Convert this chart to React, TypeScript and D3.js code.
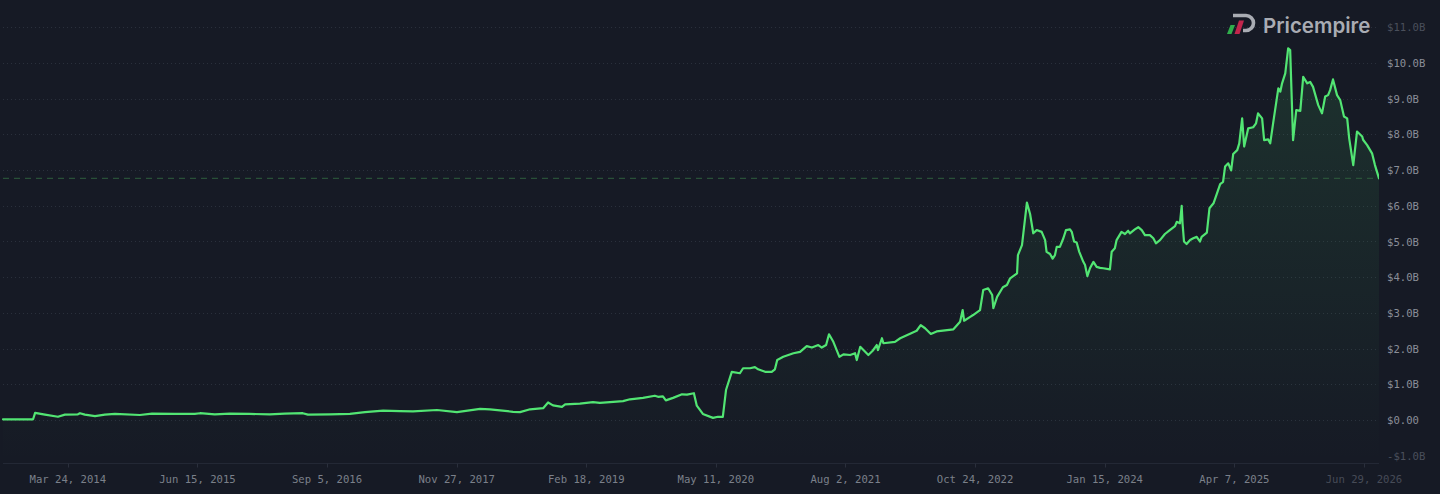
import React from "react";
import * as d3 from "d3";

// One line per calendar year; dates and values are aligned index by index.
const dates = [
  "2013-08-12","2013-11-24","2013-12-01",
  "2014-01-04","2014-02-18","2014-03-14","2014-04-28","2014-05-05","2014-05-22","2014-06-26","2014-07-30","2014-09-03","2014-11-28",
  "2015-01-09","2015-03-29","2015-06-06","2015-06-24","2015-08-14","2015-10-05","2015-12-13",
  "2016-02-20","2016-04-12","2016-06-13","2016-07-01","2016-09-15","2016-11-23",
  "2017-01-14","2017-03-18","2017-05-15","2017-06-29","2017-09-20","2017-11-28",
  "2018-02-16","2018-03-22","2018-06-10","2018-07-04","2018-08-08","2018-09-22","2018-10-09","2018-10-26","2018-11-26","2018-12-07",
  "2019-01-27","2019-03-13","2019-04-06","2019-05-11","2019-06-25","2019-07-19","2019-09-02","2019-10-13","2019-10-24","2019-11-10","2019-11-20","2019-12-15",
  "2020-01-15","2020-02-01","2020-02-25","2020-03-06","2020-03-27","2020-05-01","2020-05-18","2020-06-04","2020-06-15","2020-07-05","2020-08-02","2020-08-13","2020-09-06","2020-09-23","2020-10-04","2020-10-28","2020-11-20","2020-12-01","2020-12-09","2020-12-30",
  "2021-02-03","2021-02-26","2021-03-21","2021-04-08","2021-04-30","2021-05-12","2021-05-27","2021-06-06","2021-06-21","2021-07-12","2021-07-26","2021-08-18","2021-09-04","2021-09-10","2021-09-22","2021-10-09","2021-10-20","2021-11-04","2021-11-18","2021-11-22","2021-12-06","2021-12-11",
  "2022-01-20","2022-02-07","2022-03-19","2022-04-05","2022-04-19","2022-05-04","2022-05-24","2022-06-13","2022-08-10","2022-09-02","2022-09-11","2022-09-16","2022-10-07","2022-10-17","2022-11-10","2022-11-21","2022-12-08","2022-12-22","2022-12-26",
  "2023-01-08","2023-01-28","2023-02-11","2023-02-22","2023-03-18","2023-03-21","2023-04-04","2023-04-21","2023-05-02","2023-05-13","2023-05-25","2023-06-11","2023-06-23","2023-06-28","2023-07-10","2023-07-19","2023-07-27","2023-08-02","2023-08-13","2023-08-25","2023-09-03","2023-09-17","2023-09-23","2023-10-01","2023-10-10","2023-10-19","2023-11-02","2023-11-08","2023-11-16","2023-11-25","2023-12-07","2023-12-18","2023-12-30",
  "2024-01-10","2024-02-02","2024-02-08","2024-02-19","2024-02-25","2024-03-13","2024-03-25","2024-04-05","2024-04-11","2024-04-28","2024-05-10","2024-05-22","2024-06-02","2024-06-19","2024-07-01","2024-07-10","2024-07-24","2024-08-10","2024-08-27","2024-09-14","2024-09-20","2024-10-01","2024-10-07","2024-10-10","2024-10-15","2024-10-24","2024-11-05","2024-11-16","2024-11-28","2024-12-09","2024-12-15",
  "2025-01-02","2025-01-11","2025-01-25","2025-02-06","2025-02-17","2025-02-27","2025-03-06","2025-03-17","2025-03-27","2025-04-03","2025-04-17","2025-04-24","2025-05-04","2025-05-11","2025-05-25","2025-06-11","2025-06-21","2025-06-28","2025-07-12","2025-07-19","2025-08-02","2025-08-09","2025-08-19","2025-09-06","2025-09-13","2025-09-19","2025-09-30","2025-10-10","2025-10-17","2025-10-27","2025-11-07","2025-11-21","2025-12-01","2025-12-15","2025-12-25",
  "2026-01-04","2026-01-22","2026-02-04","2026-02-15","2026-02-25","2026-03-04","2026-03-14","2026-03-28","2026-04-08","2026-04-21","2026-05-02","2026-05-09","2026-05-23","2026-06-05","2026-06-23","2026-06-26","2026-07-10","2026-07-27","2026-08-06","2026-08-20",
];

// Market cap in billions of USD
const values = [
  0.02,0.02,0.20,
  0.15,0.09,0.15,0.16,0.19,0.15,0.11,0.15,0.17,0.14,
  0.18,0.17,0.17,0.19,0.16,0.18,0.17,
  0.16,0.18,0.19,0.15,0.16,0.17,
  0.22,0.26,0.25,0.24,0.28,0.22,
  0.31,0.30,0.23,0.22,0.30,0.33,0.49,0.41,0.37,0.44,
  0.46,0.50,0.48,0.50,0.53,0.58,0.62,0.68,0.65,0.66,0.55,0.62,
  0.72,0.71,0.75,0.40,0.17,0.06,0.09,0.09,0.84,1.35,1.31,1.45,1.45,1.48,1.42,1.35,1.35,1.42,1.68,1.77,
  1.87,1.91,2.07,2.03,2.10,2.03,2.10,2.40,2.19,1.77,1.84,1.82,1.87,1.68,2.05,1.91,1.82,1.94,2.10,1.96,2.29,2.15,
  2.19,2.29,2.44,2.50,2.66,2.57,2.41,2.48,2.54,2.75,3.08,2.78,2.89,2.94,3.08,3.64,3.69,3.50,3.13,
  3.45,3.72,3.78,3.97,4.11,4.62,4.90,6.09,5.77,5.23,5.32,5.27,5.04,4.71,4.65,4.52,4.62,4.85,4.85,5.09,5.32,5.34,5.27,5.00,4.97,4.71,4.43,4.34,4.03,4.25,4.43,4.29,4.26,
  4.25,4.22,4.71,4.81,5.04,5.27,5.21,5.30,5.23,5.34,5.40,5.32,5.18,5.18,5.09,4.95,5.04,5.21,5.32,5.43,5.55,5.51,6.00,5.51,5.00,4.93,5.04,5.09,5.13,5.00,5.13,
  5.25,5.93,6.07,6.35,6.61,6.67,7.10,7.19,6.99,7.45,7.56,7.75,8.45,7.66,8.17,8.20,8.31,8.59,8.45,7.84,7.86,7.75,8.31,9.29,9.20,9.43,9.71,10.41,10.36,7.84,8.68,8.66,9.61,9.43,9.47,
  9.33,8.82,8.59,9.06,9.10,9.24,9.54,9.10,8.96,8.50,8.45,7.89,7.14,8.08,7.94,7.85,7.70,7.47,7.14,6.77,
];

const xTickDates = [
  "2014-03-24","2015-06-15","2016-09-05","2017-11-27","2019-02-18","2020-05-11",
  "2021-08-02","2022-10-24","2024-01-15","2025-04-07","2026-06-29",
];

const yTickValues = [-1, 0, 1, 2, 3, 4, 5, 6, 7, 8, 9, 10, 11];
const gridValues = [0, 1, 2, 3, 4, 5, 6, 7, 8, 9, 10, 11];

const BG = "#161a25";
const LINE = "#52e573";
const MONO = "'DejaVu Sans Mono', 'Liberation Mono', monospace";

export default function App() {
  const W = 1440;
  const H = 494;
  const plotLeft = 3;
  const plotRight = 1379;
  const axisY = 463.5;

  const parse = d3.utcParse("%Y-%m-%d");
  const n = Math.min(dates.length, values.length);
  const data = dates.slice(0, n).map((d, i) => ({ date: parse(d) as Date, value: values[i] }));

  const x = d3
    .scaleUtc()
    .domain(d3.extent(data, (d) => d.date) as [Date, Date])
    .range([plotLeft, plotRight]);
  const y = d3.scaleLinear().domain([0, 11]).range([420, 27.3]);

  const line = d3
    .line<{ date: Date; value: number }>()
    .x((d) => x(d.date))
    .y((d) => y(d.value));
  const area = d3
    .area<{ date: Date; value: number }>()
    .x((d) => x(d.date))
    .y0(axisY)
    .y1((d) => y(d.value));

  const fmtDate = d3.utcFormat("%b %-d, %Y");
  const fmtVal = (v: number) =>
    v === 0 ? "$0.00" : (v < 0 ? "-" : "") + "$" + Math.abs(v).toFixed(1) + "B";

  const last = data[data.length - 1].value;

  return (
    <div
      style={{
        position: "fixed",
        left: 0,
        top: 0,
        width: W,
        height: H,
        background: BG,
        overflow: "hidden",
      }}
    >
      <svg width={W} height={H} style={{ display: "block" }}>
        <defs>
          <linearGradient id="areaFill" gradientUnits="userSpaceOnUse" x1="0" y1={y(10.5)} x2="0" y2={axisY}>
            <stop offset="0%" stopColor={LINE} stopOpacity={0.12} />
            <stop offset="100%" stopColor={LINE} stopOpacity={0.0} />
          </linearGradient>
          <clipPath id="plotClip">
            <rect x={0} y={0} width={plotRight} height={axisY} />
          </clipPath>
        </defs>
        <rect x={0} y={0} width={W} height={H} fill={BG} />

        {/* grid */}
        {gridValues.map((v) => (
          <line
            key={"g" + v}
            x1={plotLeft}
            x2={plotRight}
            y1={Math.round(y(v)) + 0.5}
            y2={Math.round(y(v)) + 0.5}
            stroke="#2a303c"
            strokeWidth={1}
            strokeDasharray="1 3"
          />
        ))}

        <g clipPath="url(#plotClip)">
          <path d={area(data) || ""} fill="url(#areaFill)" />
          <line
            x1={plotLeft}
            x2={plotRight}
            y1={y(last)}
            y2={y(last)}
            stroke="#2f5e3e"
            strokeWidth={1}
            strokeDasharray="6 5"
          />
          <path
            d={line(data) || ""}
            fill="none"
            stroke={LINE}
            strokeWidth={2.2}
            strokeLinejoin="round"
            strokeLinecap="round"
          />
        </g>

        {/* x axis */}
        <line x1={plotLeft} x2={plotRight} y1={axisY} y2={axisY} stroke="#232835" strokeWidth={1} />
        {xTickDates.map((s, i) => {
          const d = parse(s) as Date;
          const xx = Math.round(x(d)) + 0.5;
          const faded = i === xTickDates.length - 1;
          return (
            <g key={"xt" + s}>
              <line x1={xx} x2={xx} y1={axisY} y2={axisY + 4} stroke="#2a2f3c" strokeWidth={1} />
              <text
                x={x(d)}
                y={479}
                textAnchor="middle"
                dominantBaseline="central"
                fontFamily={MONO}
                fontSize={10.6}
                fill={faded ? "#464b57" : "#7b808a"}
              >
                {fmtDate(d)}
              </text>
            </g>
          );
        })}

        {/* y axis labels */}
        {yTickValues.map((v) => {
          const faded = v === 11 || v === -1;
          return (
            <text
              key={"yt" + v}
              x={1387}
              y={y(v)}
              textAnchor="start"
              dominantBaseline="central"
              fontFamily={MONO}
              fontSize={10.6}
              fill={faded ? "#4a4f5b" : "#8a8e98"}
            >
              {fmtVal(v)}
            </text>
          );
        })}

        {/* logo */}
        <g>
          <path
            d="M1233,15.5 H1246 A7.5,7.5 0 0 1 1246,30.5 H1243"
            fill="none"
            stroke="#a9acb3"
            strokeWidth={3.6}
          />
          <path d="M1239,20.5 L1244,20.5 L1239.5,34 L1234.5,34 Z" fill="#c2264c" />
          <path d="M1230.5,25 L1235,25 L1231.5,34 L1227,34 Z" fill="#2fae4c" />
          <text
            x={1263}
            y={33.3}
            fontFamily="Inter, 'Noto Sans', sans-serif"
            fontWeight={600}
            fontSize={20.5}
            fill="#a9acb3"
          >
            Pricempire
          </text>
        </g>
      </svg>
    </div>
  );
}
